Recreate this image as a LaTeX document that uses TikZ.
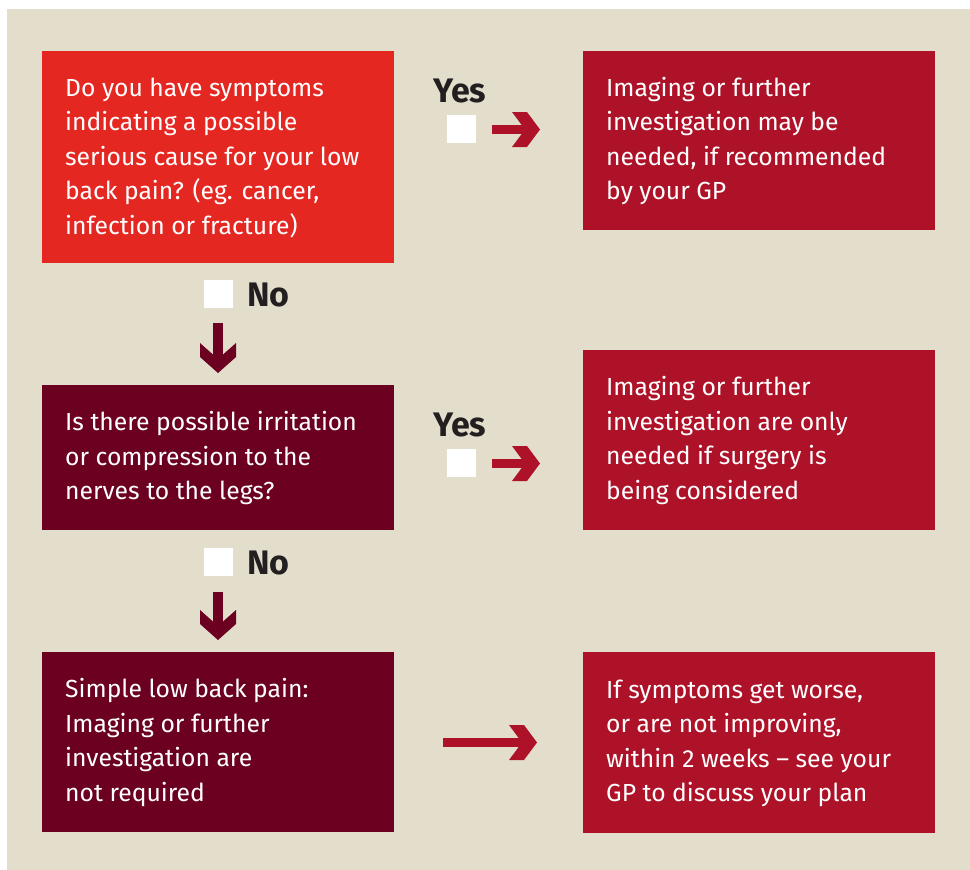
\documentclass[tikz,border=0pt]{standalone}
\usepackage{fontspec}
\setmainfont{Fira Sans}
\usetikzlibrary{calc}
\definecolor{bg}{HTML}{E3DECC}
\definecolor{redq}{HTML}{E52722}
\definecolor{maroon}{HTML}{6B0020}
\definecolor{crimson}{HTML}{AE1228}
\definecolor{ink}{HTML}{231F20}
\begin{document}
\begin{tikzpicture}[x=1pt,y=-1pt,
  box/.style={draw=none,minimum width=352pt,anchor=north west,inner sep=0pt},
  txt/.style={anchor=west,align=left,text=white,inner sep=0pt,font=\fontsize{24.7}{34.5}\selectfont},
  yn/.style={font=\bfseries\fontsize{34}{34}\selectfont,text=ink,anchor=base west,inner sep=0pt},
  sq/.style={fill=white,minimum width=29pt,minimum height=28pt,inner sep=0pt,anchor=north west},
  pics/rarr/.style={code={
    \fill[crimson] (-#1,-4.5) rectangle (-14,4.5);
    \fill[crimson] (-28,-17.5) -- (-13,-17.5) -- (0,0) -- (-13,17.5) -- (-28,17.5) -- (-15,0) -- cycle;}},
  pics/darr/.style={code={
    \fill[maroon] (-5,-#1) rectangle (5,-14);
    \fill[maroon] (-18,-30) -- (0,-14) -- (18,-30) -- (18,-16) -- (0,0) -- (-18,-16) -- cycle;}}
]
\useasboundingbox (0,0) rectangle (970,870);
\fill[white] (0,0) rectangle (970,870);
\fill[bg] (7,9) rectangle (970,870);

% boxes
\node[box,fill=redq,minimum height=212pt] (q1) at (42,51) {};
\node[box,fill=crimson,minimum height=179pt] (r1) at (583,51) {};
\node[box,fill=maroon,minimum height=145pt] (q2) at (42,385) {};
\node[box,fill=crimson,minimum height=180pt] (r2) at (583,350) {};
\node[box,fill=maroon,minimum height=180pt] (q3) at (42,652) {};
\node[box,fill=crimson,minimum height=181pt] (r3) at (583,652) {};

% texts
\node[txt] (q1t) at ($(q1.west)+(23,0.5)$) {Do you have symptoms\\indicating a possible\\serious cause for your low\\back pain? (eg. cancer,\\infection or fracture)};
\node[txt] (r1t) at ($(r1.west)+(23,0.5)$) {Imaging or further\\investigation may be\\needed, if recommended\\by your GP};
\node[txt] (q2t) at ($(q2.west)+(23,0.5)$) {Is there possible irritation\\or compression to the\\nerves to the legs?};
\node[txt] (r2t) at ($(r2.west)+(23,0.5)$) {Imaging or further\\investigation are only\\needed if surgery is\\being considered};
\node[txt] (q3t) at ($(q3.west)+(23,0.5)$) {Simple low back pain:\\Imaging or further\\investigation are\\not required};
\node[txt] (r3t) at ($(r3.west)+(23,0.5)$) {If symptoms get worse,\\or are not improving,\\within 2 weeks -- see your\\GP to discuss your plan};

% yes / no labels
\node[yn] (yes1) at (433,102) {Yes};
\node[sq] (ys1) at (447,115) {};
\node[yn] (yes2) at (433,436) {Yes};
\node[sq] (ys2) at (447,449) {};
\node[yn] (no1) at (247,306) {No};
\node[sq] (ns1) at (204,280) {};
\node[yn] (no2) at (247,574) {No};
\node[sq] (ns2) at (204,548) {};

% arrows
\coordinate (a1) at (540,129.5);
\coordinate (a2) at (540,463.5);
\coordinate (a3) at (537,742.5);
\coordinate (d1) at (218,373);
\coordinate (d2) at (218,640);
\pic at (a1) {rarr=48};
\pic at (a2) {rarr=48};
\pic at (a3) {rarr=94};
\pic at (d1) {darr=50};
\pic at (d2) {darr=48};
\end{tikzpicture}
\end{document}
